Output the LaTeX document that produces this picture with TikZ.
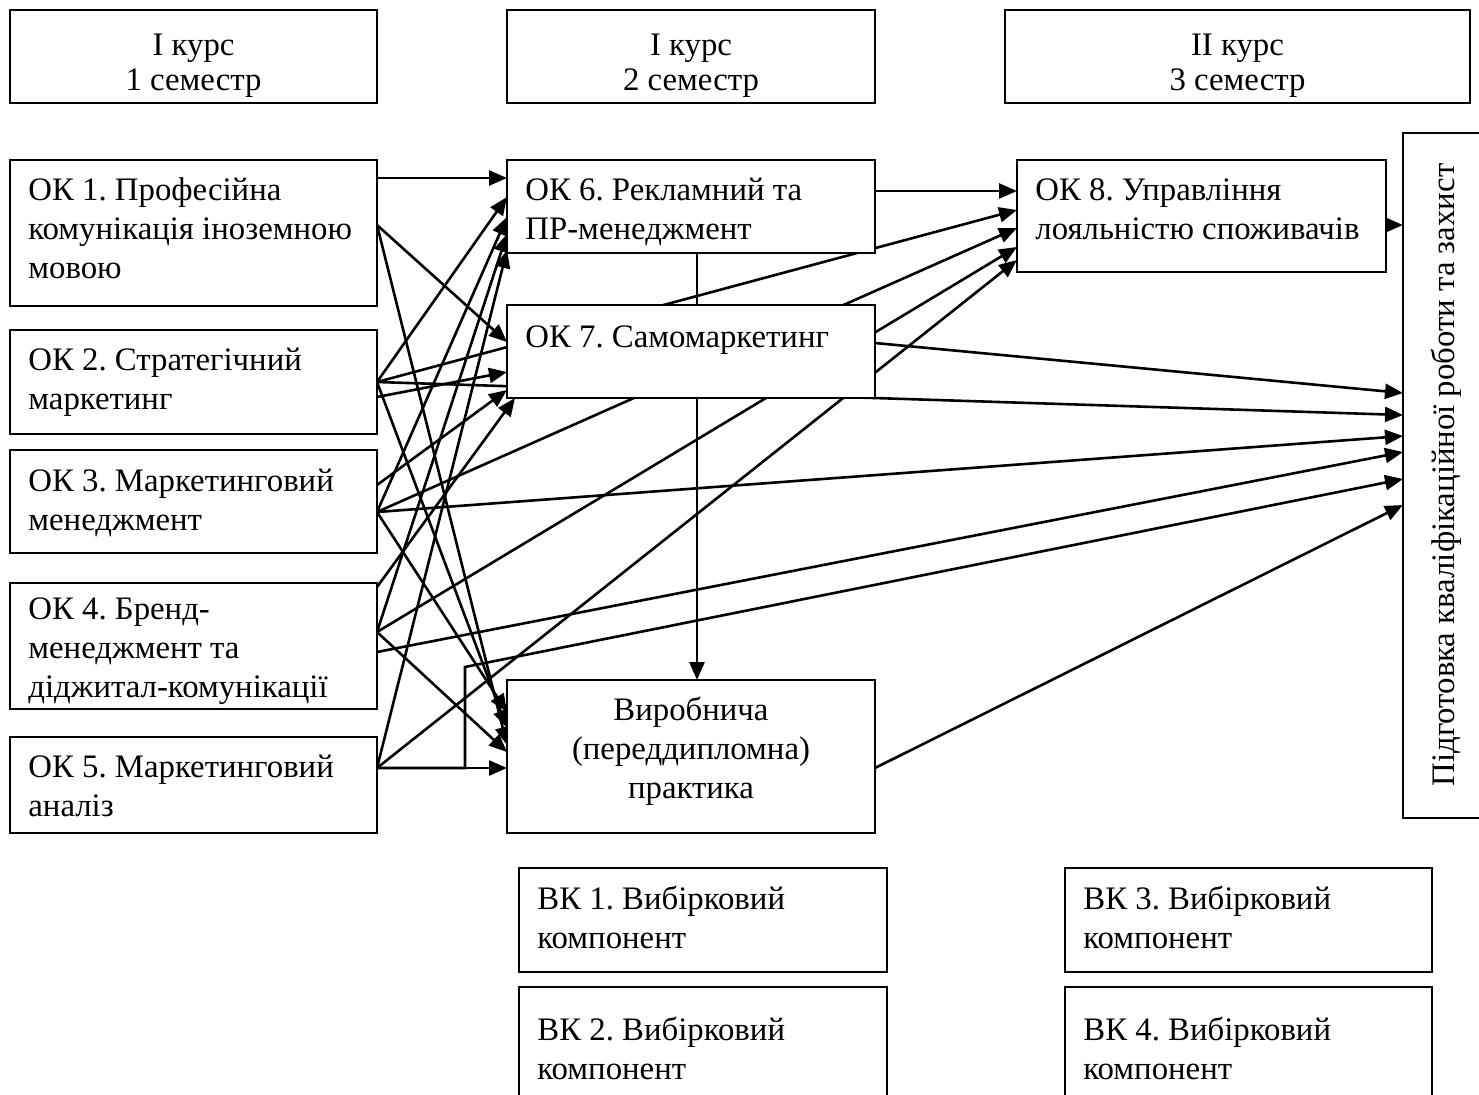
\documentclass[tikz,border=0pt]{standalone}
\usepackage{fontspec}
\setmainfont{Liberation Serif}
\usetikzlibrary{arrows.meta,calc,backgrounds}
\frenchspacing
\begin{document}
\begin{tikzpicture}[x=0.5pt,y=-0.5pt,
  box/.style={draw,line width=0.6pt,fill=white,rectangle,inner sep=0,outer sep=0,anchor=north west},
  bx/.style 2 args={minimum width=#1*0.5pt,minimum height=#2*0.5pt},
  txt/.style={inner sep=0,align=left,anchor=north west,font=\fontsize{16.4pt}{19.5pt}\selectfont},
  ctxt/.style={inner sep=0,align=center,anchor=north,font=\fontsize{16.4pt}{19.5pt}\selectfont},
  hdr/.style={inner sep=0,align=center,anchor=north,font=\fontsize{16.4pt}{17.5pt}\selectfont},
  conn/.style={line width=1.3pt,-{Triangle[length=9pt,width=7.5pt]}},
  plainline/.style={line width=1.3pt}]
\path[use as bounding box] (0,0) rectangle (1479,1094);
\clip (0,0) rectangle (1479,1094);
% header boxes
\node[box,bx={367}{93}] (h1) at (10,10) {};
\node[box,bx={368}{93}] (h2) at (507,10) {};
\node[box,bx={465}{93}] (h3) at (1005,10) {};
% left column
\node[box,bx={367}{146}] (ok1) at (10,160) {};
\node[box,bx={367}{104}] (ok2) at (10,330) {};
\node[box,bx={367}{103}] (ok3) at (10,450) {};
\node[box,bx={367}{126}] (ok4) at (10,583) {};
\node[box,bx={367}{96}] (ok5) at (10,737) {};
% middle column
\node[box,bx={368}{93}] (ok6) at (507,160) {};
\node[box,bx={368}{93}] (ok7) at (507,305) {};
\node[box,bx={368}{153}] (pr) at (507,680) {};
\node[box,bx={368}{104}] (vk1) at (519,868) {};
\node[box,bx={368}{130}] (vk2) at (519,987) {};
% right column
\node[box,bx={369}{112}] (ok8) at (1017,160) {};
\node[box,bx={367}{104}] (vk3) at (1065,868) {};
\node[box,bx={367}{130}] (vk4) at (1065,987) {};
\node[box,bx={110}{685}] (fin) at (1403,133) {};
% texts
\node[hdr] (th1) at (193.5,31) {\strut І курс\\1 семестр};
\node[hdr] (th2) at (691,31) {\strut І курс\\2 семестр};
\node[hdr] (th3) at (1237.5,31) {\strut ІІ курс\\3 семестр};
\node[txt] (t1) at (28,173) {\strut ОК 1. Професійна\\комунікація іноземною\\мовою};
\node[txt] (t2) at (28,343) {\strut ОК 2. Стратегічний\\маркетинг};
\node[txt] (t3) at (28,464) {\strut ОК 3. Маркетинговий\\менеджмент};
\node[txt] (t4) at (28,592) {\strut ОК 4. Бренд-\\менеджмент та\\діджитал-комунікації};
\node[txt] (t5) at (28,750) {\strut ОК 5. Маркетинговий\\аналіз};
\node[txt] (t6) at (525,173) {\strut ОК 6. Рекламний та\\ПР-менеджмент};
\node[txt] (t7) at (525,320) {\strut ОК 7. Самомаркетинг};
\node[ctxt] (tp) at (691,693) {\strut Виробнича\\(переддипломна)\\практика};
\node[txt] (t8) at (1035,173) {\strut ОК 8. Управління\\лояльністю споживачів};
\node[txt] (tv1) at (537,882) {\strut ВК 1. Вибірковий\\компонент};
\node[txt] (tv2) at (537,1013) {\strut ВК 2. Вибірковий\\компонент};
\node[txt] (tv3) at (1083,882) {\strut ВК 3. Вибірковий\\компонент};
\node[txt] (tv4) at (1083,1013) {\strut ВК 4. Вибірковий\\компонент};
\node[inner sep=0,anchor=base,rotate=90,font=\fontsize{16.4pt}{19.5pt}\selectfont] (tf) at (1454,475) {Підготовка кваліфікаційної роботи та захист};
% connectors behind boxes
\begin{pgfonlayer}{background}
\draw[conn] ($(ok1.north east)+(0,18)$) -- ($(ok6.north west)+(0,18)$);
\draw[conn] ($(ok1.north east)+(0,65)$) -- ($(ok7.north west)+(0,37)$);
\draw[conn] ($(ok1.north east)+(0,65)$) -- ($(pr.north west)+(0,65)$);
\draw[conn] ($(ok2.north east)+(0,52)$) -- ($(ok6.north west)+(0,37)$);
\draw[conn] ($(ok2.north east)+(0,67)$) -- ($(ok7.north west)+(0,67)$);
\draw[conn] ($(ok2.north east)+(0,52)$) -- ($(ok8.north west)+(0,50)$);
\draw[conn] ($(ok2.north east)+(0,52)$) -- ($(fin.north west)+(0,282)$);
\draw[conn] ($(ok2.north east)+(0,52)$) -- ($(pr.north west)+(0,48)$);
\draw[conn] ($(ok3.north east)+(0,62)$) -- ($(ok6.north west)+(0,57)$);
\draw[conn] ($(ok3.north east)+(0,35)$) -- ($(ok7.north west)+(0,85)$);
\draw[conn] ($(ok3.north east)+(0,62)$) -- ($(ok8.north west)+(0,68)$);
\draw[conn] ($(ok3.north east)+(0,62)$) -- ($(fin.north west)+(0,303)$);
\draw[conn] ($(ok3.north east)+(0,62)$) -- ($(pr.north west)+(0,32)$);
\draw[conn] ($(ok4.north east)+(0,49)$) -- ($(ok6.north west)+(0,74)$);
\draw[conn] ($(ok4.north east)+(0,4)$) -- ($(ok7.south west)+(8,0)$);
\draw[conn] ($(ok4.north east)+(0,49)$) -- ($(ok8.north west)+(0,87)$);
\draw[conn] ($(ok4.north east)+(0,69)$) -- ($(fin.north west)+(0,319)$);
\draw[conn] ($(ok4.north east)+(0,49)$) -- ($(pr.north west)+(0,72)$);
\draw[conn] ($(ok5.north east)+(0,31)$) -- ($(ok6.north west)+(0,90)$);
\draw[conn] ($(ok5.north east)+(0,31)$) -- ($(ok8.north west)+(0,100)$);
\draw[conn] ($(ok5.north east)+(0,31)$) -- ($(pr.north west)+(0,88)$);
\draw[conn] ($(ok5.north east)+(0,31)$) -- ++(88,0) -- ++(0,-101) -- ($(fin.north west)+(0,346)$);
\draw[conn] ($(ok6.south)+(6,0)$) -- ($(pr.north)+(6,0)$);
\draw[conn] ($(ok6.north east)+(0,31)$) -- ($(ok8.north west)+(0,31)$);
\draw[conn] ($(ok7.north east)+(0,38)$) -- ($(fin.north west)+(0,260)$);
\draw[conn] ($(ok8.north east)+(0,65)$) -- ($(fin.north west)+(0,92)$);
\draw[conn] ($(pr.north east)+(0,88)$) -- ($(fin.north west)+(0,372)$);
\end{pgfonlayer}
\end{tikzpicture}
\end{document}
